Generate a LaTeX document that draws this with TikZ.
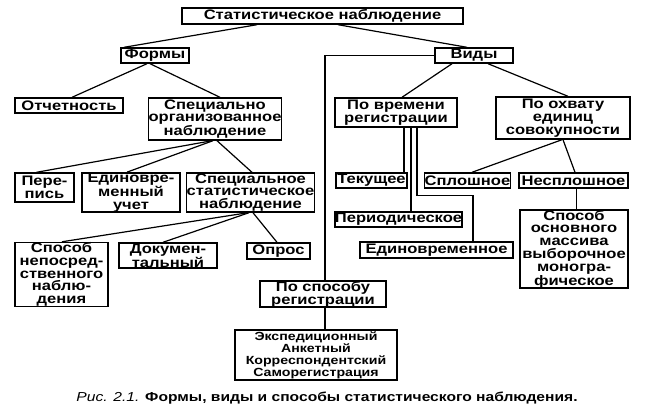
\documentclass[tikz,border=0pt]{standalone}
\usepackage{fontspec}
\setmainfont{Liberation Sans}[FakeStretch=1.2]
\usetikzlibrary{calc}
\tikzset{
  box/.style={draw=black, line width=1.4pt, rectangle, inner sep=0pt, align=center,
    font=\fontsize{13.8}{12.8}\selectfont\bfseries},
  smallbox/.style={box, font=\fontsize{11.8}{12}\selectfont\bfseries},
  link/.style={draw=black, line width=1.2pt},
}
\begin{document}
\begin{tikzpicture}[x=1pt,y=-1pt]
\useasboundingbox[fill=white] (0,0) rectangle (651,413);
% boxes
\node[box, minimum width=281, minimum height=16] (top) at (322.5,16) {Статистическое наблюдение};
\node[box, minimum width=68, minimum height=15] (formy) at (155,55.5) {Формы};
\node[box, minimum width=78, minimum height=15] (vidy) at (474,55.5) {Виды};
\node[box, minimum width=108, minimum height=15] (otchet) at (69,105.5) {Отчетность};
\node[box, minimum width=132, minimum height=42] (specorg) at (215,119) {Специально\\организованное\\наблюдение};
\node[box, minimum width=122, minimum height=29] (povrem) at (396,112.5) {По времени\\регистрации};
\node[box, minimum width=134, minimum height=42] (pooxv) at (563,118) {По охвату\\единиц\\совокупности};
\node[box, minimum width=59, minimum height=29] (perepis) at (44.5,187.5) {Пере-\\пись};
\node[box, minimum width=98, minimum height=39] (educhet) at (131,192.5) {Единовре-\\менный\\учет};
\node[box, minimum width=127, minimum height=39] (specstat) at (250.5,192.5) {Специальное\\статистическое\\наблюдение};
\node[box, minimum width=71, minimum height=15] (tekush) at (371.5,180.5) {Текущее};
\node[box, minimum width=85, minimum height=15] (splosh) at (467.5,180.5) {Сплошное};
\node[box, minimum width=109, minimum height=15] (nesplosh) at (573.5,180.5) {Несплошное};
\node[box, minimum width=127, minimum height=15] (period) at (398.5,219.5) {Периодическое};
\node[box, minimum width=153, minimum height=16] (edinovr) at (436.5,250) {Единовременное};
\node[box, minimum width=108, minimum height=78] (sposobosn) at (574,249) {Способ\\основного\\массива\\выборочное\\моногра-\\фическое};
\node[box, minimum width=93, minimum height=63] (neposr) at (61.5,274.5) {Способ\\непосред-\\ственного\\наблю-\\дения};
\node[box, minimum width=98, minimum height=25] (dokum) at (168,255.5) {Докумен-\\тальный};
\node[box, minimum width=63, minimum height=16] (opros) at (278.5,251) {Опрос};
\node[box, minimum width=126, minimum height=26] (posposob) at (323,294) {По способу\\регистрации};
\node[smallbox, minimum width=162, minimum height=50] (eksped) at (316,355) {Экспедиционный\\Анкетный\\Корреспондентский\\Саморегистрация};
\node[font=\fontsize{13}{14}\selectfont\bfseries, inner sep=0pt] (caption) at (327,398) {{\mdseries\itshape Рис. 2.1.} Формы, виды и способы статистического наблюдения.};
% connectors
\draw[link] ([xshift=-65.5pt]top.south) -- ([xshift=-31pt]formy.north);
\draw[link] ([xshift=15.5pt]top.south) -- ([xshift=-7pt]vidy.north);
\draw[link] (vidy.west) -| ([xshift=2pt]posposob.north);
\draw[link] ([xshift=-8pt]formy.south) -- ([xshift=3pt]otchet.north);
\draw[link] ([xshift=-5pt]formy.south) -- ([xshift=5pt]specorg.north);
\draw[link] ([xshift=-22pt]vidy.south) -- ([xshift=6pt]povrem.north);
\draw[link] ([xshift=14pt]vidy.south) -- ([xshift=5pt]pooxv.north);
\draw[link] ([xshift=-3pt]specorg.south) -- ([xshift=-8pt]perepis.north);
\draw[link] ([xshift=-2pt]specorg.south) -- ([xshift=-4pt]educhet.north);
\draw[link] ([xshift=2pt]specorg.south) -- ([xshift=1.5pt]specstat.north);
\draw[link] ([xshift=-2.5pt]specstat.south) -- ([xshift=0.5pt]neposr.north);
\draw[link] ([xshift=-1.5pt]specstat.south) -- ([xshift=-5pt]dokum.north);
\draw[link] ([xshift=2.5pt]specstat.south) -- ([xshift=-1.5pt]opros.north);
\draw[link] ([xshift=8pt]povrem.south) -- ([xshift=8pt]povrem.south |- tekush.north);
\draw[link] ([xshift=15pt]povrem.south) -- ([xshift=15pt]povrem.south |- period.north);
\draw[link] ([xshift=21pt]povrem.south) -- ++(0,68) -| ([xshift=36.5pt]edinovr.north);
\draw[link] ([xshift=-1pt]pooxv.south) -- ([xshift=4.5pt]splosh.north);
\draw[link] ([xshift=0pt]pooxv.south) -- ([xshift=1.5pt]nesplosh.north);
\draw[link] ([xshift=3pt]nesplosh.south) -- ([xshift=3pt]nesplosh.south |- sposobosn.north);
\draw[link] ([xshift=2pt]posposob.south) -- ([xshift=2pt]posposob.south |- eksped.north);
\end{tikzpicture}
\end{document}
